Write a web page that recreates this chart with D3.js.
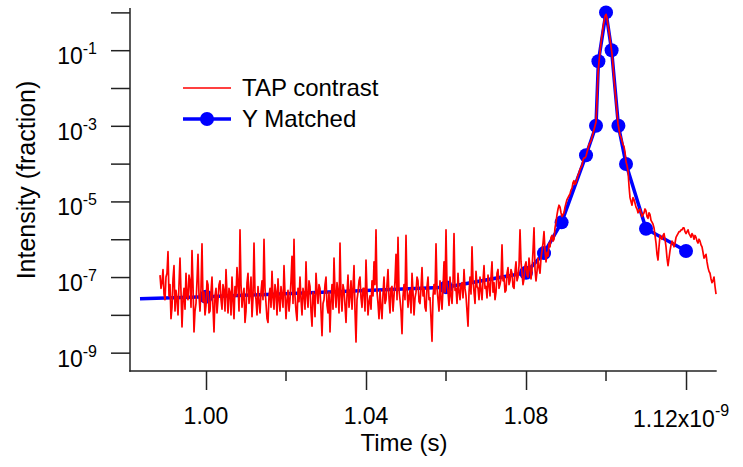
<!DOCTYPE html>
<html>
<head>
<meta charset="utf-8">
<script src="https://cdn.jsdelivr.net/npm/d3@7"></script>
<style>
  body { margin: 0; background: #fff; }
  text { font-family: "Liberation Sans", Arial, sans-serif; fill: #000; }
</style>
</head>
<body>
<svg id="chart" width="743" height="467"></svg>
<script>
// Y Matched points (time in s, intensity as fraction)
const matchedTime  = [0.9835e-9, 1.000e-9, 1.060e-9, 1.080e-9, 1.0845e-9, 1.0889e-9, 1.095e-9,
                      1.0975e-9, 1.0981e-9, 1.100e-9, 1.1014e-9, 1.1031e-9, 1.105e-9, 1.110e-9, 1.120e-9];
const matchedValue = [2.65e-8, 3.0e-8, 5.4e-8, 1.3e-7, 4.3e-7, 2.8e-6, 1.66e-4,
                      1.0e-3, 5.1e-2, 1.0, 0.1, 1.0e-3, 9.8e-5, 1.9e-6, 4.9e-7];

// TAP contrast trace: evenly sampled wave, values kept as log10(intensity)
const tapStart = 0.9885e-9;
const tapStep  = 0.00025e-9;
const tapLog10 = [
  -6.95, -7.3, -7.15, -6.8, -7.45, -7.6, -7.0, -6.9, -6.33, -7.5, -7.2, -8.1, -7.8, -7.05, -6.7, -7.9, -7.35, -7.6, -8.0, -7.2,
  -6.5, -7.4, -8.32, -7.6, -7.3, -7.85, -6.9, -7.5, -7.6, -6.95, -7.1, -7.8, -6.3, -7.2, -8.45, -7.9, -7.7, -7.1, -6.4, -7.5,
  -7.9, -7.3, -6.12, -7.65, -7.4, -8.0, -7.75, -7.1, -7.2, -7.95, -7.9, -7.4, -7.0, -7.8, -8.45, -7.5, -7.3, -7.95, -7.6, -7.2,
  -7.1, -7.6, -7.85, -7.2, -7.35, -7.9, -6.8, -7.45, -7.95, -7.3, -7.4, -8.0, -7.0, -7.6, -8.1, -7.25, -7.5, -6.75, -7.2, -7.9,
  -5.75, -7.2, -7.8, -7.5, -7.3, -8.2, -7.9, -7.15, -6.9, -7.7, -7.45, -7.0, -8.05, -7.55, -6.1, -7.4, -7.6, -8.0, -7.25, -7.65,
  -7.95, -7.4, -7.1, -7.6, -6.0, -7.3, -7.7, -8.1, -8.2, -7.5, -7.3, -7.8, -6.85, -7.55, -7.85, -7.2, -7.4, -8.0, -7.05, -7.6,
  -7.9, -7.25, -7.5, -7.8, -6.7, -7.45, -8.1, -7.6, -7.35, -7.9, -7.6, -7.1, -6.45, -7.7, -6.0, -7.5, -7.9, -8.15, -7.3, -7.65,
  -7.0, -7.6, -8.0, -7.3, -7.45, -7.85, -6.6, -7.5, -7.8, -7.1, -7.25, -7.9, -8.3, -7.4, -7.5, -8.05, -6.9, -7.35, -7.7, -7.2,
  -7.3, -7.9, -8.55, -7.7, -7.6, -7.2, -7.0, -7.75, -7.95, -7.4, -8.45, -7.6, -7.2, -7.85, -6.5, -7.4, -7.8, -7.15, -7.4, -7.95,
  -6.1, -7.5, -7.9, -7.2, -7.35, -7.75, -8.2, -7.45, -6.95, -7.8, -7.5, -7.1, -7.85, -7.3, -6.7, -7.9, -8.72, -7.6, -7.4, -7.1,
  -7.0, -7.55, -7.8, -7.3, -7.3, -7.9, -6.55, -7.4, -8.0, -7.65, -7.5, -7.85, -7.1, -7.5, -6.6, -7.2, -5.75, -7.4, -7.7, -8.1,
  -7.35, -7.8, -8.1, -7.45, -7.0, -7.7, -7.6, -7.2, -6.8, -7.55, -7.95, -7.3, -7.25, -7.9, -7.5, -7.1, -6.4, -7.6, -5.95, -7.35,
  -7.6, -7.9, -8.5, -7.5, -7.2, -7.6, -5.9, -7.3, -7.8, -7.5, -7.35, -7.95, -6.9, -7.4, -8.0, -7.55, -7.4, -7.0, -7.1, -7.65,
  -7.7, -7.3, -6.75, -7.5, -7.3, -7.8, -7.9, -7.25, -7.0, -7.6, -7.55, -8.1, -8.7, -7.5, -7.2, -7.45, -6.12, -7.3, -7.6, -7.9,
  -7.1, -7.55, -7.85, -7.3, -6.6, -7.4, -5.75, -7.2, -7.4, -7.75, -7.0, -7.5, -7.7, -7.15, -5.85, -7.35, -7.3, -7.7, -6.9, -7.4,
  -7.6, -7.2, -7.15, -7.55, -6.8, -7.3, -7.5, -7.9, -8.3, -7.4, -7.0, -7.45, -6.2, -7.1, -7.4, -7.7, -6.85, -7.25, -7.3, -7.6,
  -7.0, -7.35, -7.6, -7.1, -6.7, -7.3, -7.25, -7.55, -6.95, -7.2, -7.5, -7.0, -6.6, -7.4, -7.15, -7.6, -7.4, -6.9, -6.8, -7.3,
  -7.2, -7.05, -6.15, -7.1, -7.0, -7.4, -7.35, -6.9, -6.75, -7.2, -7.1, -6.8, -6.9, -7.25, -7.3, -6.85, -6.6, -7.1, -7.0, -6.7,
  -5.75, -6.6, -6.9, -7.2, -7.05, -6.7, -6.6, -6.95, -7.0, -6.5, -6.75, -7.05, -6.8, -6.3, -5.7, -6.8, -7.1, -6.85, -6.5, -6.75,
  -6.9, -6.5, -6.3, -6.1, -5.8, -6.3, -6.6, -6.35, -6.45, -6.1, -6.2, -5.95, -5.9, -6.05, -6.0, -5.7, -5.55, -5.35, -5.2, -5.1,
  -5.15, -5.3, -5.4, -5.35, -5.3, -5.15, -5.05, -4.95, -4.9, -4.85, -4.8, -4.7, -4.65, -4.5, -4.45, -4.55, -4.5, -4.4, -4.3, -4.25,
  -4.15, -4.1, -4.05, -3.9, -3.85, -3.85, -3.8, -3.7, -3.6, -3.5, -3.45, -3.4, -3.3, -3.2, -3.1, -3.0, -2.9, -2.3, -1.6, -1.3,
  -1.05, -0.8, -0.6, -0.4, -0.25, -0.1, -0.05, -0.15, -0.35, -0.5, -0.7, -0.9, -1.1, -1.4, -1.75, -2.05, -2.35, -2.65, -2.95, -3.1,
  -3.25, -3.3, -3.4, -3.5, -3.55, -3.7, -3.95, -4.05, -4.2, -4.6, -4.9, -5.0, -5.1, -4.9, -4.95, -5.05, -5.15, -5.2, -5.3, -5.25,
  -5.2, -5.3, -5.4, -5.35, -5.3, -5.2, -5.25, -5.4, -5.45, -5.3, -5.35, -5.5, -5.55, -5.6, -5.7, -5.9, -6.1, -6.4, -6.55, -6.2,
  -5.9, -5.95, -6.0, -5.9, -5.85, -6.0, -6.2, -6.5, -6.7, -6.5, -6.3, -6.15, -6.05, -6.1, -6.2, -6.1, -5.95, -5.9, -5.85, -5.8,
  -5.8, -5.75, -5.75, -5.7, -5.7, -5.8, -5.85, -5.8, -5.75, -5.85, -5.9, -5.95, -5.85, -5.9, -6.0, -5.9, -5.95, -6.05, -6.1, -6.0,
  -6.05, -6.15, -6.2, -6.35, -6.5, -6.45, -6.4, -6.6, -6.75, -6.85, -6.9, -7.05, -7.15, -7.1, -7.0, -7.25, -7.45
];

const xMajorTicks = [1.00e-9, 1.04e-9, 1.08e-9, 1.12e-9];
const xMinorTicks = [1.02e-9, 1.06e-9, 1.10e-9];
const yTickExps   = [0, -1, -2, -3, -4, -5, -6, -7, -8, -9];
const yLabelExps  = [-1, -3, -5, -7, -9];

const tapData = tapLog10.map((v, i) => ({t: tapStart + i * tapStep, v: Math.pow(10, v)}));
const matchedData = matchedTime.map((t, i) => ({t: t, v: matchedValue[i]}));

const svg = d3.select("#chart");
const axisColor = "#222";

const x = d3.scaleLinear()
            .domain([0.981e-9, 1.12767e-9])
            .range([130, 716.7]);

const y = d3.scaleLog()
            .domain([Math.pow(10, -9.485), Math.pow(10, 0.116)])
            .range([371, 8]);

// y axis
const yAxis = svg.append("g").attr("class", "axis y-axis")
                 .attr("transform", "translate(130,0)")
                 .call(d3.axisLeft(y)
                         .tickValues(yTickExps.map(e => Math.pow(10, e)))
                         .tickSize(19)
                         .tickFormat(""));
yAxis.select(".domain").remove();
yAxis.selectAll(".tick line").attr("stroke", axisColor).attr("stroke-width", 1.5);
yAxis.append("line")
     .attr("x1", 0).attr("x2", 0)
     .attr("y1", y.range()[1]).attr("y2", y.range()[0] + 0.75)
     .attr("stroke", axisColor).attr("stroke-width", 1.5);

// y tick labels: 10 with superscript exponent
yLabelExps.forEach(e => {
    const ty = y(Math.pow(10, e));
    const lbl = svg.append("text")
                   .attr("x", 97)
                   .attr("y", ty + 14)
                   .attr("text-anchor", "end")
                   .style("font-size", "23px");
    lbl.append("tspan").text("10");
    lbl.append("tspan").attr("dy", -10).style("font-size", "16px").text(String(e));
});

// x axis
const xAxis = svg.append("g").attr("class", "axis x-axis")
                 .attr("transform", "translate(0,371)")
                 .call(d3.axisBottom(x)
                         .tickValues(xMajorTicks)
                         .tickSize(19)
                         .tickFormat(""));
xAxis.select(".domain").remove();
xAxis.selectAll(".tick line").attr("stroke", axisColor).attr("stroke-width", 1.5);

svg.append("g").selectAll("line")
   .data(xMinorTicks)
   .join("line")
     .attr("x1", d => x(d)).attr("x2", d => x(d))
     .attr("y1", 371).attr("y2", 381)
     .attr("stroke", axisColor).attr("stroke-width", 1.5);

svg.append("line")
   .attr("x1", 129.25).attr("x2", x.range()[1])
   .attr("y1", 371).attr("y2", 371)
   .attr("stroke", axisColor).attr("stroke-width", 1.5);

// x tick labels, exponent on the last one
xMajorTicks.forEach((t, i) => {
    const last = i === xMajorTicks.length - 1;
    const lbl = svg.append("text")
                   .attr("y", last ? 427 : 424)
                   .style("font-size", "23px");
    if (last) {
        lbl.attr("x", x(t) - 53).attr("text-anchor", "start");
        lbl.append("tspan").text((t * 1e9).toFixed(2) + "x10");
        lbl.append("tspan").attr("dy", -11).style("font-size", "16px").text("-9");
    } else {
        lbl.attr("x", x(t)).attr("text-anchor", "middle")
           .text((t * 1e9).toFixed(2));
    }
});

// axis titles
svg.append("text")
   .attr("x", 404).attr("y", 451)
   .attr("text-anchor", "middle")
   .style("font-size", "24px")
   .text("Time (s)");

svg.append("text")
   .attr("transform", "translate(35,180) rotate(-90)")
   .attr("text-anchor", "middle")
   .style("font-size", "25px")
   .text("Intensity (fraction)");

// Y Matched line + markers
const line = d3.line().x(d => x(d.t)).y(d => y(d.v));

svg.append("path")
   .datum(matchedData)
   .attr("fill", "none")
   .attr("stroke", "#0000ff")
   .attr("stroke-width", 3.5)
   .attr("stroke-linejoin", "round")
   .attr("d", line);

// the first point of the wave shows no marker in the source
svg.append("g").selectAll("circle")
   .data(matchedData.slice(1))
   .join("circle")
     .attr("cx", d => x(d.t))
     .attr("cy", d => y(d.v))
     .attr("r", 7)
     .attr("fill", "#0000ff");

// TAP contrast trace on top
svg.append("path")
   .datum(tapData)
   .attr("fill", "none")
   .attr("stroke", "#ff0000")
   .attr("stroke-width", 1.7)
   .attr("stroke-linejoin", "round")
   .attr("d", line);

// legend
const legend = svg.append("g").attr("class", "legend");
legend.append("line")
      .attr("x1", 183).attr("x2", 231).attr("y1", 88).attr("y2", 88)
      .attr("stroke", "#ff0000").attr("stroke-width", 1.5);
legend.append("text")
      .attr("x", 242).attr("y", 96)
      .style("font-size", "24px")
      .text("TAP contrast");
legend.append("line")
      .attr("x1", 183).attr("x2", 231).attr("y1", 119).attr("y2", 119)
      .attr("stroke", "#0000ff").attr("stroke-width", 3.5);
legend.append("circle")
      .attr("cx", 207).attr("cy", 119).attr("r", 7)
      .attr("fill", "#0000ff");
legend.append("text")
      .attr("x", 242).attr("y", 127)
      .style("font-size", "24px")
      .text("Y Matched");
</script>
</body>
</html>
